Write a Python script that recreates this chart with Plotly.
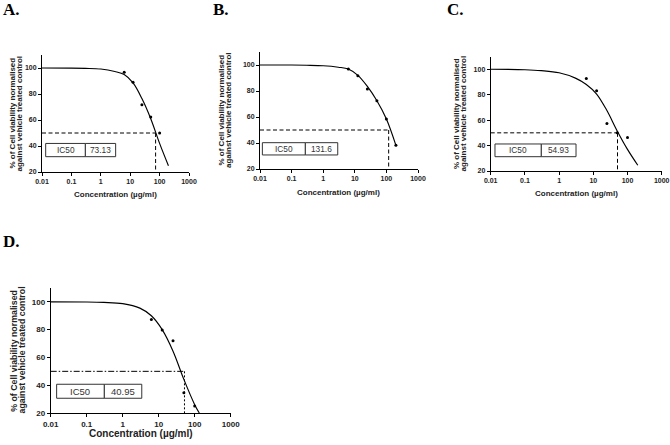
import plotly.graph_objects as go

# ---------------- data ----------------
panel_letters = ["A.", "B.", "C.", "D."]
ic50_text = ["73.13", "131.6", "54.93", "40.95"]

conc_A = [6.25, 12.5, 25, 50, 100]
via_A = [96.7, 89.0, 71.8, 62.3, 50.0]
conc_B = [6.25, 12.5, 25, 50, 100, 200]
via_B = [96.9, 91.8, 81.5, 72.5, 58.5, 38.2]
conc_C = [6.25, 12.5, 25, 50, 100]
via_C = [92.7, 83.0, 57.4, 50.0, 46.4]
conc_D = [6.25, 12.5, 25, 50, 100]
via_D = [87.3, 79.7, 72.0, 34.6, 25.0]

# fitted curves
fitx_A = [0.01, 0.1, 0.3, 1, 3, 6.25, 12.5, 25, 50, 100, 200]
fity_A = [100, 99.9, 99.7, 99.2, 97.3, 95.0, 88.5, 76.5, 61.0, 42.0, 24.8]
fitx_B = [0.01, 0.1, 0.3, 1, 3, 6.25, 12.5, 25, 50, 100, 200]
fity_B = [100, 100, 99.8, 99.4, 98.3, 96.9, 92.0, 83.5, 72.5, 58.5, 38.2]
fitx_C = [0.01, 0.1, 0.3, 1, 3, 6.25, 12.5, 25, 50, 100, 200]
fity_C = [100, 99.6, 98.9, 97.2, 93.0, 88.0, 80.5, 67.5, 51.5, 37.0, 24.5]
fitx_D = [0.01, 0.1, 0.3, 1, 3, 6.25, 12.5, 25, 50, 100, 134]
fity_D = [100, 99.9, 99.6, 98.7, 95.5, 90.0, 80.0, 64.5, 44.2, 26.0, 20.0]

# where the IC50 guide lines are drawn
ref_x = [73.13, 118, 51, 52]
half_level = 50
y_floor = 20

x_tickvals = [0.01, 0.1, 1, 10, 100, 1000]
x_ticktext = ["0.01", "0.1", "1", "10", "100", "1000"]
y_tickvals = [20, 40, 60, 80, 100]

# ---------------- layout geometry (pixels) ----------------
W, H = 670, 445
# (left, right, top, bottom) of each plot area in px
boxes_px = [(42, 189, 55, 172), (260, 418, 52, 169), (490.7, 661.7, 56.5, 171), (50.7, 230.7, 288, 413)]
# IC50 box in axis-domain fractions: x0, xdiv, x1, y0, y1
ic_box = [(0.025, 0.295, 0.501, 0.131, 0.244),
          (0.015, 0.287, 0.492, 0.120, 0.225),
          (0.025, 0.296, 0.499, 0.125, 0.236),
          (0.033, 0.298, 0.506, 0.118, 0.230)]
ytitle_px = [(12, 19), (221, 228.5), (456.3, 463.7), (13.3, 21)]
xtitle_py = [195, 192.7, 193.3, 433.3]
letter_px = [(1, 9.5), (211, 9.5), (445, 9.5), (1, 241)]
tick_size = [7, 7, 7, 8]
xtitle_size = [8, 8, 8, 10]
ytitle_size = [8, 8, 8, 8.8]
box_size = [8.3, 8.3, 8.3, 9.5]
hdash = ["4px,2.5px", "4px,2.5px", "4px,2.5px", "6px,2px,1.5px,2px"]
vdash = ["4px,2.5px", "4px,2.5px", "4px,2.5px", "2px,2px"]

SANS = "Liberation Sans, Arial, sans-serif"
SERIF = "Liberation Serif, Times New Roman, serif"

conc = [conc_A, conc_B, conc_C, conc_D]
via = [via_A, via_B, via_C, via_D]
fitx = [fitx_A, fitx_B, fitx_C, fitx_D]
fity = [fity_A, fity_B, fity_C, fity_D]


def px2paper(x, y):
    return x / W, 1 - y / H


fig = go.Figure()
layout = dict(width=W, height=H, margin=dict(l=0, r=0, t=0, b=0, pad=0, autoexpand=False),
              plot_bgcolor="white", paper_bgcolor="white", showlegend=False)
annotations = []
shapes = []

for i in range(4):
    n = "" if i == 0 else str(i + 1)
    xa, ya = "x" + n, "y" + n
    L, R, T, B = boxes_px[i]
    layout["xaxis" + n] = dict(
        domain=[L / W, R / W], anchor=ya, type="log", range=[-2, 3], automargin=False,
        tickvals=x_tickvals, ticktext=x_ticktext, showgrid=False, zeroline=False,
        showline=True, linecolor="black", linewidth=1, ticks="outside", ticklen=3,
        tickwidth=1, tickcolor="black",
        tickfont=dict(family=SANS, size=tick_size[i], color="#222", weight="bold"))
    layout["yaxis" + n] = dict(
        domain=[1 - B / H, 1 - T / H], anchor=xa, range=[20, 110], automargin=False,
        tickvals=y_tickvals, showgrid=False, zeroline=False,
        showline=True, linecolor="black", linewidth=1, ticks="outside", ticklen=3,
        tickwidth=1, tickcolor="black",
        tickfont=dict(family=SANS, size=tick_size[i], color="#222", weight="bold"))

    # guide lines
    fig.add_trace(go.Scatter(x=[0.01, ref_x[i]], y=[half_level, half_level], mode="lines",
                             line=dict(color="black", width=1, dash=hdash[i]),
                             xaxis=xa, yaxis=ya, hoverinfo="skip"))
    fig.add_trace(go.Scatter(x=[ref_x[i], ref_x[i]], y=[half_level, y_floor], mode="lines",
                             line=dict(color="black", width=1, dash=vdash[i]),
                             xaxis=xa, yaxis=ya, hoverinfo="skip"))
    # fitted curve
    fig.add_trace(go.Scatter(x=fitx[i], y=fity[i], mode="lines",
                             line=dict(color="black", width=1.15, shape="spline", smoothing=1),
                             xaxis=xa, yaxis=ya, hoverinfo="skip"))
    # data points
    fig.add_trace(go.Scatter(x=conc[i], y=via[i], mode="markers",
                             marker=dict(color="black", size=3),
                             xaxis=xa, yaxis=ya, cliponaxis=False))

    # IC50 box
    bx0, bxd, bx1, by0, by1 = ic_box[i]
    for (a, b) in [(bx0, bxd), (bxd, bx1)]:
        shapes.append(dict(type="rect", xref=xa + " domain", yref=ya + " domain",
                           x0=a, x1=b, y0=by0, y1=by1,
                           line=dict(color="#333", width=1), fillcolor="white", layer="above"))
    annotations.append(dict(xref=xa + " domain", yref=ya + " domain",
                            x=(bx0 + bxd) / 2, y=(by0 + by1) / 2, text="IC50", showarrow=False,
                            xanchor="center", yanchor="middle",
                            font=dict(family=SANS, size=box_size[i], color="#333")))
    annotations.append(dict(xref=xa + " domain", yref=ya + " domain",
                            x=(bxd + bx1) / 2, y=(by0 + by1) / 2, text=ic50_text[i], showarrow=False,
                            xanchor="center", yanchor="middle",
                            font=dict(family=SANS, size=box_size[i], color="#333")))

    # axis titles
    yc = (T + B) / 2
    for k, txt in enumerate(["% of Cell viability normalised", "against vehicle treated control"]):
        px_, py_ = px2paper(ytitle_px[i][k], yc)
        annotations.append(dict(xref="paper", yref="paper", x=px_, y=py_, text=txt,
                                textangle=-90, showarrow=False, xanchor="center", yanchor="middle",
                                font=dict(family=SANS, size=ytitle_size[i], color="#222", weight="bold")))
    px_, py_ = px2paper((L + R) / 2, xtitle_py[i])
    annotations.append(dict(xref="paper", yref="paper", x=px_, y=py_, text="Concentration (µg/ml)",
                            showarrow=False, xanchor="center", yanchor="middle",
                            font=dict(family=SANS, size=xtitle_size[i], color="#222", weight="bold")))
    # panel letter
    px_, py_ = px2paper(*letter_px[i])
    annotations.append(dict(xref="paper", yref="paper", x=px_, y=py_, text=panel_letters[i],
                            showarrow=False, xanchor="left", yanchor="middle",
                            font=dict(family=SERIF, size=17, color="black", weight="bold")))

layout["annotations"] = annotations
layout["shapes"] = shapes
fig.update_layout(**layout)
fig.write_html("out.html", config={"displayModeBar": False},
               post_script="document.body.style.margin='0px';")
